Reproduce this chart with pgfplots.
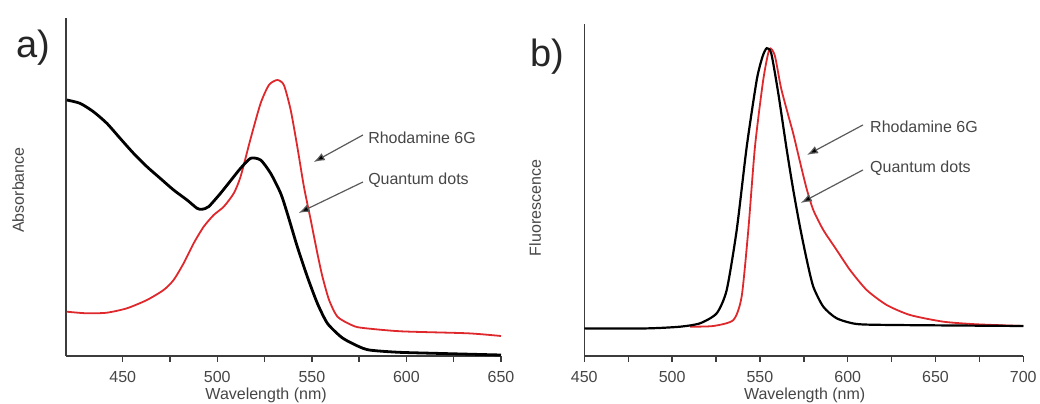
\documentclass[border=0pt]{standalone}
\usepackage{pgfplots}
\pgfplotsset{compat=1.18}
\usepackage{fontspec}
\setmainfont{Liberation Sans}
\usetikzlibrary{arrows.meta}
\definecolor{curvered}{RGB}{222,40,44}
\definecolor{axisgray}{RGB}{60,60,60}
\definecolor{textgray}{RGB}{70,70,70}
\definecolor{arrowgray}{RGB}{90,90,90}

\pgfplotstableread{
x y
420.4 255.7
427.4 252.4
434.5 244
441.6 232.4
448.6 217.4
455.7 202.4
462.8 189
469.8 177.4
476.9 165.7
484 155.7
489.3 147.4
491.9 146.4
495.4 149
501.7 162.4
508.7 179
512.3 187.4
517.6 197.4
522.9 195.7
528.2 182.4
533.5 162.4
537 142.4
542.3 109
547.6 79
552.9 52.4
558.2 32.4
565.3 19
570.6 13
579.4 6
595 3.5
614.8 2.4
650 0.7
}\absqd

\pgfplotstableread{
x y
420.4 44
431 42.4
441.6 43
452.2 47.4
462.8 55.7
471.6 65.7
476.9 75.7
482.2 92.4
487.5 112.4
492.8 129
498.1 140.7
503.4 149
508.7 162.4
512.3 179
517.6 217
522.9 252.4
527.3 270.7
531.7 275.7
535.2 270.7
538.8 245.7
542.3 209
545.8 169
549.4 135.7
552.9 102.4
555.6 79
559.1 55.7
563.5 39
570.6 31
575.9 28
597 24.4
632.5 22.4
650 19.7
}\absrh

\pgfplotstableread{
x y
450 27.3
485.5 27.3
504.5 29
515.9 32.4
525.4 42.4
531.1 65.7
536.8 125.7
542.5 209
548.2 275.7
551.5 299
553.9 307.4
556.5 302
560.5 262
565.3 205.7
569 165.7
572.8 129
576.7 95.7
580.4 69
586.1 49
593.7 37.4
605.1 31.7
626 30.7
700 29.7
}\flqd

\pgfplotstableread{
x y
510.2 29
523.5 29.7
534.9 35.7
539.6 59
543.4 125.7
547.2 209
551.9 275.7
555.4 306.4
558.5 300
562 268
566.2 240
569 222
572.8 194
576.6 167
580.4 145.7
586.1 125.7
593.7 105.7
601.3 85.7
610.8 65.7
622.2 50.7
635.5 40.7
654.5 34
673.5 31.4
700 29.7
}\flrh

\pgfplotsset{
  panel/.style={
    scale only axis,
    axis lines*=left,
    axis line style={axisgray, line width=0.8pt},
    ymin=0,
    ytick=\empty,
    tick align=outside,
    major tick length=3pt,
    minor tick length=3pt,
    every tick/.style={axisgray, line width=0.7pt},
    minor x tick num=1,
    tick label style={font=\fontsize{8}{9}\selectfont, text=textgray},
    xticklabel style={yshift=-1.5pt},
    label style={font=\fontsize{8}{9}\selectfont, text=textgray},
    /pgf/number format/assume math mode=true,
    /pgf/number format/1000 sep={},
    clip=false,
  },
}
\tikzset{
  annot/.style={font=\fontsize{8}{9}\selectfont, text=textgray, anchor=west, inner sep=0pt},
  arr/.style={draw=arrowgray, line width=0.6pt, -{Latex[length=5.5pt,width=4pt,fill=black]}},
}

\begin{document}
\begin{tikzpicture}
\useasboundingbox (0,0) rectangle (520pt,201.5pt);

\begin{axis}[panel,
  at={(33pt,23.65pt)}, anchor=south west,
  width=217.5pt, height=168.7pt,
  xmin=420, xmax=650, ymax=337.4,
  xtick={450,500,550,600,650},
  xlabel={Wavelength (nm)},
  ylabel={Absorbance},
  xlabel style={at={(axis description cs:0.46,0)}, anchor=center, yshift=-19.65pt},
  ylabel style={at={(axis description cs:-0.110,0.491)}, anchor=center},
]
\addplot[curvered, line width=0.9pt, smooth, tension=0.4] table[x=x,y=y] {\absrh};
\addplot[black, line width=1.4pt, smooth, tension=0.4] table[x=x,y=y] {\absqd};
\draw[arr] (axis cs:577,220.7) -- (axis cs:551,193.7);
\draw[arr] (axis cs:577,173.7) -- (axis cs:543,142.7);
\node[annot] at (axis cs:579.6,217.7) {Rhodamine 6G};
\node[annot] at (axis cs:579.6,175.7) {Quantum dots};
\end{axis}

\begin{axis}[panel,
  at={(292.15pt,23.65pt)}, anchor=south west,
  width=219.5pt, height=165.9pt,
  xmin=450, xmax=700, ymax=331.7,
  xtick={450,500,550,600,650,700},
  xlabel={Wavelength (nm)},
  ylabel={Fluorescence},
  xlabel style={at={(axis description cs:0.502,0)}, anchor=center, yshift=-19.65pt},
  ylabel style={at={(axis description cs:-0.112,0.445)}, anchor=center},
]
\addplot[curvered, line width=0.9pt, smooth, tension=0.4] table[x=x,y=y] {\flrh};
\addplot[black, line width=1.1pt, smooth, tension=0.4] table[x=x,y=y] {\flqd};
\draw[arr] (axis cs:608.7,230.7) -- (axis cs:576.8,200.7);
\draw[arr] (axis cs:608.7,185.7) -- (axis cs:573.3,152.7);
\node[annot] at (axis cs:612.6,228.7) {Rhodamine 6G};
\node[annot] at (axis cs:612.6,187.7) {Quantum dots};
\end{axis}

\node[font=\fontsize{19}{22}\selectfont, text=black!85] at (16.5pt,177.5pt) {a)};
\node[font=\fontsize{19}{22}\selectfont, text=black!85] at (273.5pt,173pt) {b)};
\end{tikzpicture}
\end{document}
